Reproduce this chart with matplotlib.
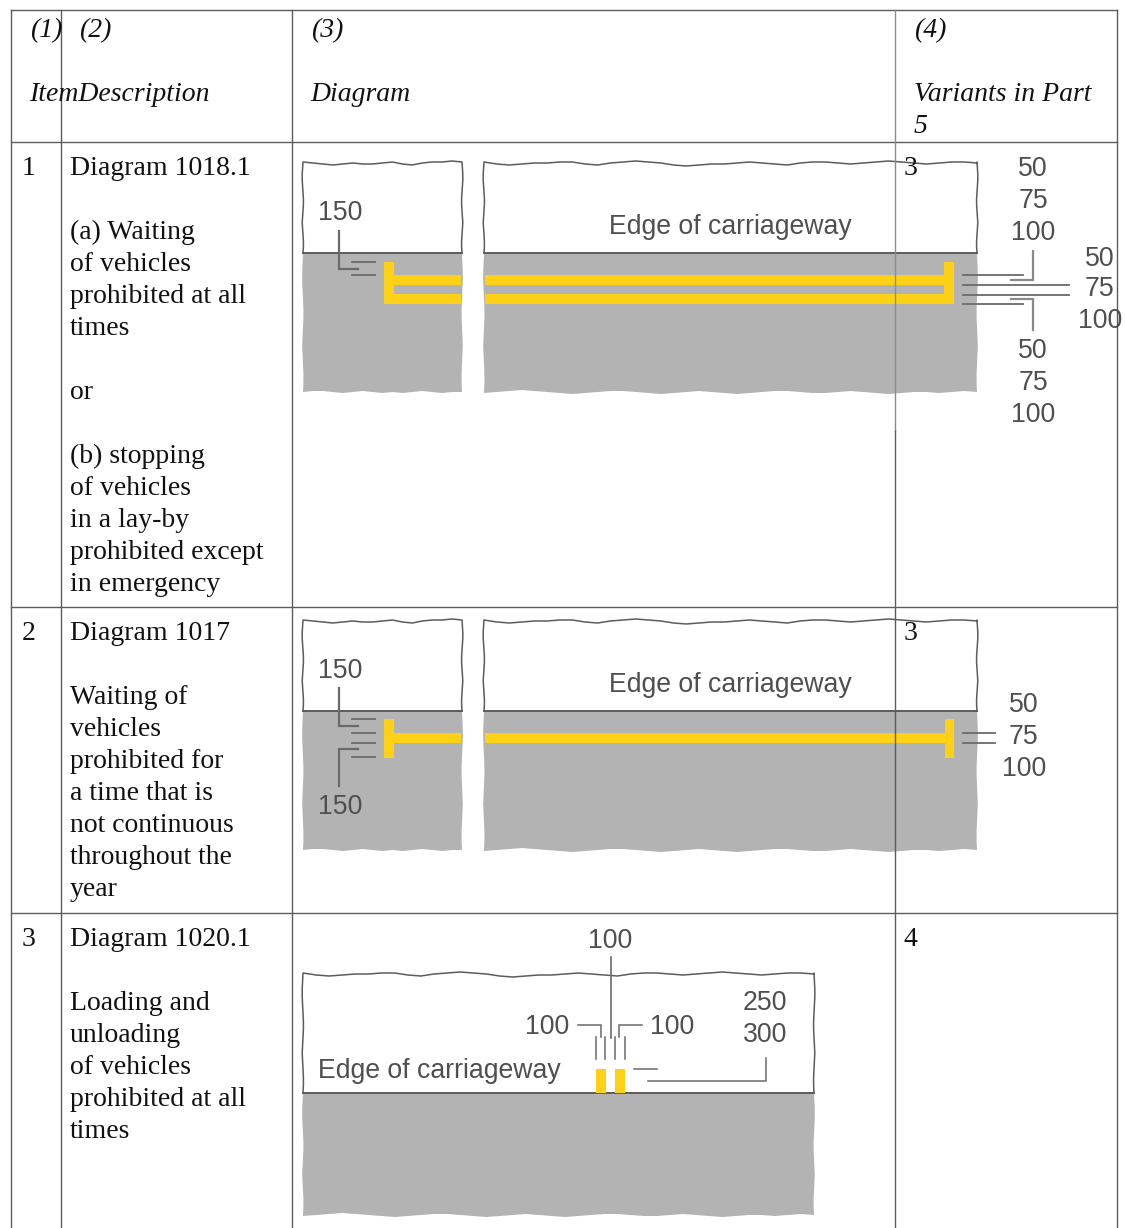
import numpy as np
import matplotlib
matplotlib.use('Agg')
from matplotlib import pyplot as plt

SERIF = 'Liberation Serif'
SANS = 'Liberation Sans'
INK = '#4f4f4f'
RULE = '#5c5c5c'
ROAD = '#b3b3b3'
YELLOW = '#fdd116'

# table text
header_top = [(30, '(1)'), (79, '(2)'), (311, '(3)'), (914, '(4)')]
header_mid = [(29, 'ItemDescription'), (310, 'Diagram'), (914, 'Variants in Part')]
row_numbers = ['1', '2', '3']
row_baselines = [175, 640, 946]
row_variants = ['3', '3', '4']
row1_lines = ['Diagram 1018.1', '', '(a) Waiting', 'of vehicles', 'prohibited at all', 'times', '',
              'or', '', '(b) stopping', 'of vehicles', 'in a lay-by', 'prohibited except', 'in emergency']
row2_lines = ['Diagram 1017', '', 'Waiting of', 'vehicles', 'prohibited for', 'a time that is',
              'not continuous', 'throughout the', 'year']
row3_lines = ['Diagram 1020.1', '', 'Loading and', 'unloading', 'of vehicles', 'prohibited at all', 'times']

# table rules
col_x = [11, 61, 292, 895, 1117]
row_y = [10, 142, 607, 913]

# torn paper edges, pixel offsets read along each edge
wiggle_a = [0, 1, 2, 3, 2, 1, 2, 2, 1, 0, 2, 3, 1, 0, 0, -1, 0]
wiggle_b = [0, 2, 3, 2, 1, 1, 0, 0, 2, 3, 1, 0, -1, 0, 1, 3, 4, 3, 2, 2, 1, 0, 1, 2, 3, 1, 0, 0, 1, 2, 1, 0, -1, 0, 1, 2, 1, 0, 0, 1]
wiggle_c = [0, -1, -1, 0, 1, 0, -1, 0, 1, 0, 1, 0, -1, 0, 1, 0, 0]
wiggle_d = [1, 0, -1, -2, -1, 0, 1, 2, 1, 0, -1, -1, 0, 1, 2, 1, 0, -1, 0, 1, 2, 1, 0, -1, -1, 0, 1, 1, 0, -1, 0, 1, 2, 1, 0, 0, 1, 0, -1, 0]
wiggle_side = [0, -1, -2, -2, -1, 0, 1, 1, 0, -1, -2, -1, 0, 1, 1, 0]

fig = plt.figure(figsize=(11.26, 12.28), dpi=100)
ax = fig.add_axes([0, 0, 1, 1])
ax.set_xlim(0, 1126)
ax.set_ylim(1228, 0)
ax.axis('off')


def torn_panel(x0, x1, top, road, bottom, top_wig, bottom_wig):
    tx = np.linspace(x0, x1, len(top_wig))
    ty = top + np.array(top_wig)
    by = bottom + np.array(bottom_wig)
    side = np.array(wiggle_side)
    sy_top = np.linspace(top, road, len(side))
    sy_low = np.linspace(road, bottom, len(side))
    # road surface
    px = list(x0 + side * 0.4) + list(tx) + list(x1 - side[::-1] * 0.4)
    py = list(sy_low) + list(by) + list(sy_low[::-1])
    ax.fill(px, py, color=ROAD, lw=0, zorder=2)
    # paper outline above the kerb
    ox = list(x0 + side[::-1] * 0.4) + list(tx) + list(x1 - side * 0.4)
    oy = list(sy_top[::-1]) + list(ty) + list(sy_top)
    ax.plot(ox, oy, color=RULE, lw=1.1, zorder=3)
    ax.plot([x0, x1], [road, road], color=RULE, lw=1.4, zorder=3)


def yellow(x0, x1, y0, y1):
    ax.fill([x0, x1, x1, x0], [y0, y0, y1, y1], color=YELLOW, lw=0, zorder=4)


def line(xs, ys, lw=1.3, color='#6a6a6a'):
    ax.plot(xs, ys, color=color, lw=lw, solid_joinstyle='miter', zorder=5)


def label(x, y, s, ha='center'):
    ax.text(x, y + 1.5, s, family=SANS, fontsize=19.2, color=INK, ha=ha, va='center', zorder=6)


# diagram 1018.1
torn_panel(303, 462, 162, 253, 392, wiggle_a, wiggle_c)
torn_panel(484, 977, 162, 253, 392, wiggle_b, wiggle_d)
yellow(384, 394, 262, 304)
yellow(394, 461, 275, 285)
yellow(394, 461, 294, 304)
yellow(485, 945, 275, 285)
yellow(485, 945, 294, 304)
yellow(944, 954, 262, 304)
label(340, 212, '150')
label(730, 226, 'Edge of carriageway')
line([352, 375], [262, 262])
line([352, 375], [275, 275])
line([339, 339, 358], [231, 269, 269], lw=1.6)
line([963, 1023], [275, 275])
line([963, 1069], [285, 285])
line([963, 1069], [295, 295])
line([963, 1023], [304, 304])
line([1033, 1033, 1011], [251, 280, 280], lw=1.6, color='#8a8a8a')
line([1033, 1033, 1011], [330, 299, 299], lw=1.6, color='#8a8a8a')
for y, s in zip([168, 200, 232], ['50', '75', '100']):
    label(1033, y, s)
for y, s in zip([257, 288, 320], ['50', '75', '100']):
    label(1100, y, s)
for y, s in zip([349, 381, 413], ['50', '75', '100']):
    label(1033, y, s)

# diagram 1017
torn_panel(303, 462, 620, 711, 850, wiggle_a, wiggle_c)
torn_panel(484, 977, 620, 711, 850, wiggle_b, wiggle_d)
yellow(384, 394, 719, 758)
yellow(394, 461, 733, 743)
yellow(485, 945, 733, 743)
yellow(945, 954, 719, 758)
label(340, 669, '150')
label(340, 806, '150')
label(730, 684, 'Edge of carriageway')
for y in [719, 733, 743, 757]:
    line([352, 375], [y, y])
line([339, 339, 358], [688, 726, 726], lw=1.6)
line([339, 339, 358], [786, 749, 749], lw=1.6)
line([963, 995], [733, 733])
line([963, 995], [743, 743])
for y, s in zip([704, 736, 768], ['50', '75', '100']):
    label(1024, y, s)

# diagram 1020.1
torn_panel(303, 814, 973, 1093, 1215, wiggle_b, wiggle_d)
yellow(596, 606, 1069, 1093)
yellow(615, 625, 1069, 1093)
for x in [596, 605, 615, 625]:
    line([x, x], [1037, 1059], lw=1.1)
line([611, 611], [957, 1038], lw=1.2)
line([578, 601, 601], [1025, 1025, 1037], lw=1.1)
line([642, 619, 619], [1025, 1025, 1037], lw=1.1)
line([634, 657], [1069, 1069], lw=1.1)
line([648, 766, 766], [1081, 1081, 1058], lw=1.1)
label(610, 939, '100')
label(547, 1026, '100')
label(672, 1026, '100')
label(765, 1002, '250')
label(765, 1034, '300')
label(318, 1069, 'Edge of carriageway', ha='left')

# table rules
for y in row_y:
    ax.plot([col_x[0], col_x[-1]], [y, y], color=RULE, lw=1.0, zorder=1)
for x in col_x[:3] + col_x[4:]:
    ax.plot([x, x], [row_y[0], 1228], color=RULE, lw=1.0, zorder=1)
ax.plot([col_x[3], col_x[3]], [row_y[0], 431], color='#8c8c8c', lw=1.0, zorder=7)
ax.plot([col_x[3], col_x[3]], [431, 1228], color=RULE, lw=1.0, zorder=7)


def cell(x, y, s, style='normal'):
    ax.text(x, y, s, family=SERIF, fontsize=20, style=style, color='#111111',
            ha='left', va='baseline', zorder=8)


for x, s in header_top:
    cell(x, 37, s, 'italic')
for x, s in header_mid:
    cell(x, 101, s, 'italic')
cell(914, 133, '5', 'italic')

for num, base, var, lines in zip(row_numbers, row_baselines, row_variants,
                                 [row1_lines, row2_lines, row3_lines]):
    cell(22, base, num)
    cell(904, base, var)
    for i, s in enumerate(lines):
        if s:
            cell(70, base + 32 * i, s)

fig.savefig('out.png', dpi=100)
plt.close()
